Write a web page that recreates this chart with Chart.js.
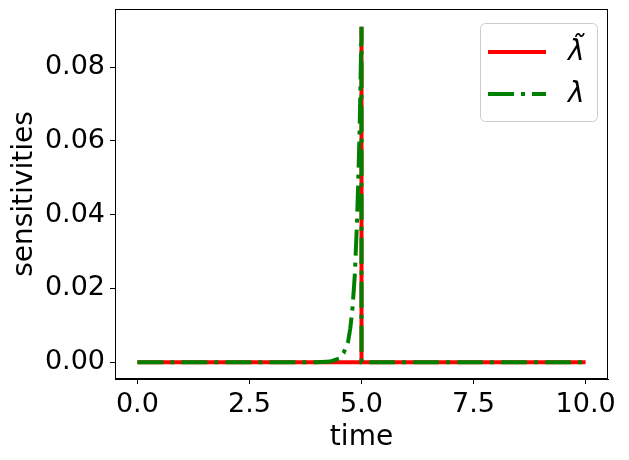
<!DOCTYPE html>
<html>
<head>
<meta charset="utf-8">
<script src="https://cdn.jsdelivr.net/npm/chart.js@4"></script>
<style>
  body { margin: 0; background: #ffffff; }
  canvas { display: block; }
</style>
</head>
<body>
<canvas id="sensChart" width="629" height="460"></canvas>
<script>
'use strict';

// ------------------ data ------------------
const redTime = [0, 5.0, 5.0, 5.0, 10];
const redValues = [0, 0, 0.091, 0, 0];
const greenTime = [0, 4.0, 4.3, 4.5, 4.6, 4.7, 4.75, 4.8, 4.85, 4.9, 4.93, 4.96, 4.98, 5.0, 5.0, 10];
const greenValues = [0, 0.00001, 0.00017, 0.001, 0.0025, 0.0055, 0.0092, 0.0148, 0.0235, 0.038, 0.05, 0.064, 0.077, 0.091, 0, 0];
const xTicks = [0, 2.5, 5, 7.5, 10];
const yTicks = [0, 0.02, 0.04, 0.06, 0.08];
const seriesLabels = ['\u03bb\u0303', '\u03bb'];

const chartElem = document.getElementById('sensChart');
const fontFamily = '"DejaVu Sans", sans-serif';

function toPoints(xs, ys) {
  const pts = [];
  for (let i = 0; i < xs.length; i++) {
    pts.push({x: xs[i], y: ys[i]});
  }
  return pts;
}

// ------------------ plugins ------------------
// full box around the plot + matplotlib-like legend
const frameAndLegend = {
  id: 'frameAndLegend',
  afterDatasetsDraw(chart) {
    const ctx = chart.ctx;
    const a = chart.chartArea;
    ctx.save();
    ctx.strokeStyle = '#000000';
    ctx.lineWidth = 1;
    ctx.strokeRect(a.left + 0.5, a.top + 0.5, a.right - a.left - 1, a.bottom - a.top - 1);

    // legend box
    const bx = a.right - 128, by = a.top + 14, bw = 117, bh = 98;
    ctx.beginPath();
    ctx.roundRect(bx + 0.5, by + 0.5, bw, bh, 5);
    ctx.fillStyle = 'rgba(255,255,255,0.8)';
    ctx.fill();
    ctx.strokeStyle = '#cccccc';
    ctx.stroke();

    const rows = [by + 29, by + 71];
    chart.data.datasets.forEach(function(ds, i) {
      ctx.beginPath();
      ctx.strokeStyle = ds.borderColor;
      ctx.lineWidth = ds.borderWidth;
      ctx.setLineDash(ds.borderDash || []);
      ctx.moveTo(bx + 8, rows[i]);
      ctx.lineTo(bx + 66, rows[i]);
      ctx.stroke();
      ctx.setLineDash([]);
      ctx.fillStyle = '#000000';
      ctx.font = 'italic 28px ' + fontFamily;
      ctx.textBaseline = 'middle';
      ctx.textAlign = 'left';
      ctx.fillText(ds.label, bx + 88, rows[i] + 1);
    });
    ctx.restore();
  }
};

// ------------------ chart ------------------
Chart.defaults.font.family = fontFamily;
Chart.defaults.font.size = 27;
Chart.defaults.color = '#000000';

const sensChart = new Chart(chartElem, {
  type: 'scatter',
  data: {
    datasets: [{
      label: seriesLabels[0],
      data: toPoints(redTime, redValues),
      showLine: true,
      borderColor: '#ff0000',
      borderWidth: 4,
      pointRadius: 0,
      tension: 0,
      order: 1
    }, {
      label: seriesLabels[1],
      data: toPoints(greenTime, greenValues),
      showLine: true,
      borderColor: '#008000',
      borderWidth: 4,
      borderDash: [26, 7, 4, 7],
      pointRadius: 0,
      tension: 0,
      order: 0
    }]
  },
  options: {
    responsive: false,
    animation: false,
    layout: {padding: {left: 0, right: 21, top: 9, bottom: 0}},
    plugins: {
      legend: {display: false},
      tooltip: {enabled: false}
    },
    scales: {
      x: {
        type: 'linear',
        min: -0.5,
        max: 10.5,
        afterBuildTicks: function(scale) {
          scale.ticks = xTicks.map(v => ({value: v}));
        },
        afterFit: function(scale) {
          scale.height = 81;
        },
        ticks: {
          padding: 5,
          maxRotation: 0,
          callback: v => v.toFixed(1)
        },
        grid: {drawOnChartArea: false, tickLength: 5, tickColor: '#000000'},
        border: {color: '#000000'},
        title: {display: true, text: 'time', font: {size: 28}, padding: {top: 0, bottom: 5}}
      },
      y: {
        type: 'linear',
        min: -0.00456,
        max: 0.0958,
        afterBuildTicks: function(scale) {
          scale.ticks = yTicks.map(v => ({value: v}));
        },
        afterFit: function(scale) {
          scale.width = 115;
          scale.paddingTop = 0;
          scale.paddingBottom = 0;
        },
        ticks: {
          padding: 5,
          callback: v => v.toFixed(2)
        },
        grid: {drawOnChartArea: false, tickLength: 5, tickColor: '#000000'},
        border: {color: '#000000'},
        title: {display: true, text: 'sensitivities', font: {size: 28}, padding: {top: 8, bottom: 0}}
      }
    }
  },
  plugins: [frameAndLegend]
});
</script>
</body>
</html>
